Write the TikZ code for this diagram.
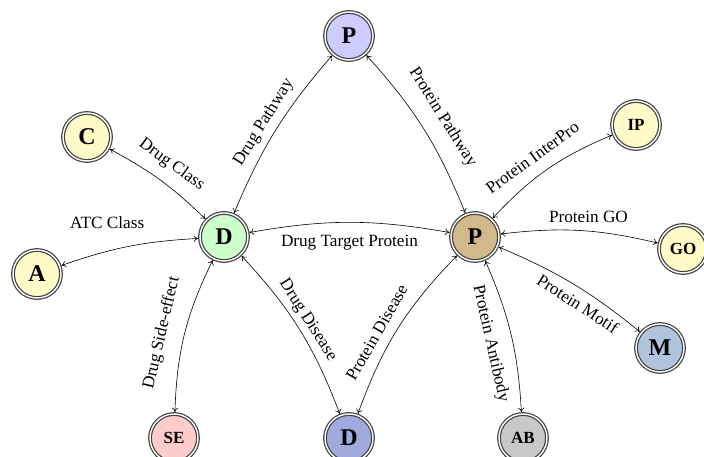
\documentclass[tikz,border=0pt]{standalone}
\usepackage{fontspec}
\setmainfont{Liberation Serif}
\usetikzlibrary{arrows.meta}
\definecolor{cyel}{RGB}{255,250,200}
\definecolor{cgreen}{RGB}{204,255,204}
\definecolor{clav}{RGB}{204,204,255}
\definecolor{ctan}{RGB}{210,185,140}
\definecolor{csteel}{RGB}{176,196,222}
\definecolor{cpink}{RGB}{255,204,204}
\definecolor{cdblue}{RGB}{160,170,220}
\definecolor{cgray}{RGB}{200,200,200}
\begin{document}
\begin{tikzpicture}[x=1pt,y=1pt,
  ent/.style={circle, draw=black!75, double=white, line width=1.2pt, double distance=1.4pt,
    minimum size=48pt, inner sep=0pt, outer sep=1.9pt,
    font=\fontsize{24}{24}\selectfont\bfseries},
  ents/.style={ent, font=\fontsize{17}{17}\selectfont\bfseries},
  rel/.style={{To[length=4.5pt,width=6.5pt]}-{To[length=4.5pt,width=6.5pt]}, line width=0.6pt},
  lab/.style={font=\fontsize{17.2}{18}\selectfont, inner sep=8pt}
]
\useasboundingbox (0,0) rectangle (704,457);
\node[ent, fill=clav] (Ptop) at (349,421) {P};
\node[ent, fill=cyel] (C) at (87,320) {C};
\node[ents, fill=cyel] (IP) at (636,332) {IP};
\node[ent, fill=cgreen] (D) at (224,220) {D};
\node[ent, fill=ctan] (P) at (475,220) {P};
\node[ent, fill=cyel] (A) at (37,183) {A};
\node[ents, fill=cyel] (GO) at (683,208) {GO};
\node[ent, fill=csteel] (M) at (660,109) {M};
\node[ents, fill=cpink] (SE) at (174,19) {SE};
\node[ent, fill=cdblue] (Db) at (349,19) {D};
\node[ents, fill=cgray] (AB) at (523,19) {AB};

\draw[rel] (D) to[bend left=9] node[lab, sloped, above, inner sep=6pt] {Drug Pathway} (Ptop);
\draw[rel] (Ptop) to[bend left=10] node[lab, sloped, above, inner sep=14pt] {Protein Pathway} (P);
\draw[rel] (C) to[bend left=8] node[lab, sloped, above, inner sep=11pt] {Drug Class} (D);
\draw[rel] (A) to[bend left=8] node[lab, pos=0.33, above=14pt] {ATC Class} (D);
\draw[rel] (D) to[bend left=10] node[lab, below, inner sep=12pt] {Drug Target Protein} (P);
\draw[rel] (D) to[bend right=12] node[lab, pos=0.53, sloped, above, inner sep=14pt] {Drug Side-effect} (SE);
\draw[rel] (D) to[bend left=11] node[lab, pos=0.48, sloped, above, inner sep=4pt] {Drug Disease} (Db);
\draw[rel] (P) to[bend right=12] node[lab, pos=0.58, sloped, above, inner sep=10pt] {Protein Disease} (Db);
\draw[rel] (P) to[bend left=12] node[lab, pos=0.46, sloped, above, inner sep=12pt] {Protein InterPro} (IP);
\draw[rel] (P) to[bend left=10] node[lab, pos=0.56, above] {Protein GO} (GO);
\draw[rel] (P) to[bend left=8] node[lab, pos=0.6, sloped, below] {Protein Motif} (M);
\draw[rel] (P) to[bend left=10] node[lab, pos=0.53, sloped, below, inner sep=14pt] {Protein Antibody} (AB);
\end{tikzpicture}
\end{document}
